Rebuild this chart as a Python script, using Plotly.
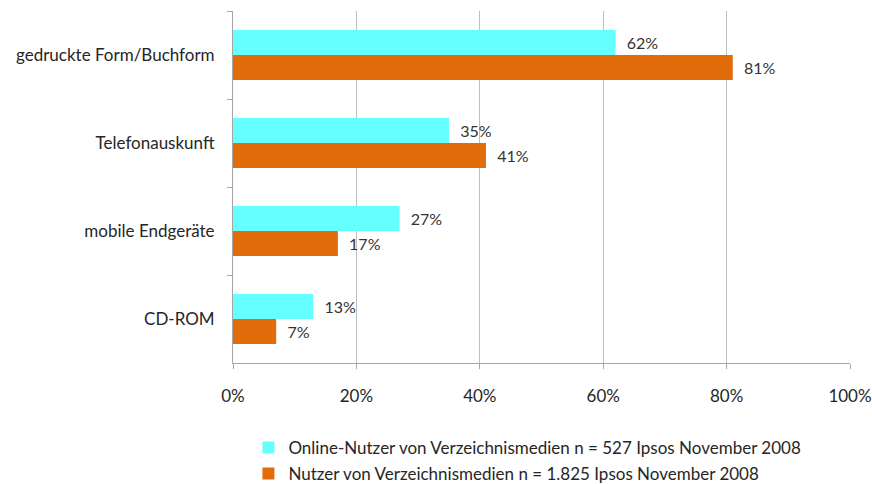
import plotly.graph_objects as go

categories = ["gedruckte Form/Buchform", "Telefonauskunft", "mobile Endgeräte", "CD-ROM"]
online_vals = [62, 35, 27, 13]
nutzer_vals = [81, 41, 17, 7]
series_names = ["Online-Nutzer von Verzeichnismedien n = 527 Ipsos November 2008",
                "Nutzer von Verzeichnismedien n = 1.825 Ipsos November 2008"]
x_ticks = [0, 20, 40, 60, 80, 100]
x_ticklabels = ["0%", "20%", "40%", "60%", "80%", "100%"]

FONT = "Lato"
SIZE = 17
fig = go.Figure()
fig.add_trace(go.Bar(
    y=categories, x=online_vals, orientation="h", name=series_names[0],
    marker=dict(color="#66FFFF", line=dict(width=0)),
    text=[f"  {v}%" for v in online_vals], textposition="outside",
    textfont=dict(family=FONT, size=16, color="#333333"),
    cliponaxis=False, legendgroup="a",
))
fig.add_trace(go.Bar(
    y=categories, x=nutzer_vals, orientation="h", name=series_names[1],
    marker=dict(color="#E36C0A", line=dict(width=0)),
    text=[f"  {v}%" for v in nutzer_vals], textposition="outside",
    textfont=dict(family=FONT, size=16, color="#333333"),
    cliponaxis=False, legendgroup="b",
))

fig.update_layout(
    width=872, height=484,
    margin=dict(l=233, r=22, t=11, b=121, autoexpand=False),
    paper_bgcolor="white", plot_bgcolor="white",
    barmode="group", bargap=0.43, bargroupgap=0,
    font=dict(family=FONT, size=SIZE, color="#262626"),
    showlegend=True,
    legend=dict(x=0.025, y=-0.19, xanchor="left", yanchor="top",
                orientation="v", traceorder="grouped", tracegroupgap=1,
                itemwidth=30,
                font=dict(family=FONT, size=SIZE, color="#262626"),
                bgcolor="rgba(0,0,0,0)"),
    xaxis=dict(range=[0, 100], tickvals=x_ticks, ticktext=x_ticklabels,
               showgrid=True, gridcolor="#BFBFBF", gridwidth=1,
               showline=True, linecolor="#A6A6A6", linewidth=1,
               ticks="outside", ticklen=5, tickcolor="#A6A6A6",
               ticklabelstandoff=13, zeroline=False, automargin=False,
               tickfont=dict(family=FONT, size=SIZE, color="#262626")),
    yaxis=dict(autorange="reversed", showgrid=False,
               showline=True, linecolor="#A6A6A6", linewidth=1,
               ticks="outside", ticklen=5, tickcolor="#A6A6A6",
               tickson="boundaries", ticklabelstandoff=14, automargin=False,
               tickfont=dict(family=FONT, size=SIZE, color="#262626")),
)

fig.write_html("out.html", config={"displayModeBar": False},
               post_script="document.body.style.margin='0';")
